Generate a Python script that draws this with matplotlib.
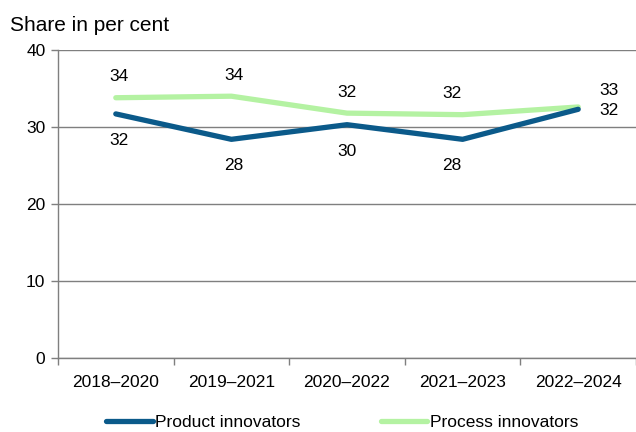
import matplotlib.pyplot as plt
import numpy as np

plt.rcParams['font.family'] = ['Liberation Sans', 'DejaVu Sans']

periods = ["2018–2020", "2019–2021", "2020–2022", "2021–2023", "2022–2024"]
product = [31.7, 28.4, 30.3, 28.4, 32.3]
process = [33.8, 34.0, 31.8, 31.6, 32.6]

blue = '#0b5a8a'
green = '#b4f2a2'
grey = '#7f7f7f'

fig = plt.figure(figsize=(6.36, 4.32), dpi=100)
ax = fig.add_axes([58 / 636, 1 - 358 / 432, 1 - 58 / 636, 308 / 432])

x = np.arange(len(periods))
ax.plot(x, product, color=blue, lw=3.8, solid_capstyle='round', label='Product innovators', zorder=3)
ax.plot(x, process, color=green, lw=3.8, solid_capstyle='round', label='Process innovators', zorder=2)

# value labels: process above, product below, last pair to the right
shift = [2, 2, 0, -8, 0]
for i, (a, b) in enumerate(zip(product, process)):
    if i == len(x) - 1:
        ax.annotate(f"{b:.0f}", (x[i], b), xytext=(22, 12), textcoords='offset points',
                    ha='center', va='center', fontsize=12.5)
        ax.annotate(f"{a:.0f}", (x[i], a), xytext=(22, -1), textcoords='offset points',
                    ha='center', va='center', fontsize=12.5)
    else:
        ax.annotate(f"{b:.0f}", (x[i], b), xytext=(shift[i], 15), textcoords='offset points',
                    ha='center', va='center', fontsize=12.5)
        ax.annotate(f"{a:.0f}", (x[i], a), xytext=(shift[i], -19), textcoords='offset points',
                    ha='center', va='center', fontsize=12.5)

ax.set_xlim(-0.5, len(x) - 0.5)
ax.set_ylim(0, 40)
ax.set_yticks([0, 10, 20, 30, 40])
ax.set_xticks(x)
ax.set_xticklabels(periods)
ax.set_xticks(np.arange(-0.5, len(x)), minor=True)
ax.tick_params(axis='x', which='major', length=0, pad=12, labelsize=12.5)
ax.tick_params(axis='x', which='minor', length=5, color=grey, width=1)
ax.tick_params(axis='y', length=5, color=grey, width=1, labelsize=12.5, pad=4)
ax.grid(axis='y', color=grey, lw=1)
ax.set_axisbelow(True)
for s in ['top', 'right']:
    ax.spines[s].set_visible(False)
for s in ['left', 'bottom']:
    ax.spines[s].set_color(grey)
    ax.spines[s].set_linewidth(1)

fig.text(10 / 636, 1 - 31 / 432, "Share in per cent", fontsize=15, va='baseline', ha='left')

fig.legend(loc='center', bbox_to_anchor=(0.538, 1 - 422 / 432), ncol=2, frameon=False,
           fontsize=12.5, handlelength=2.7, handletextpad=0.15, columnspacing=4.6)

fig.savefig('out.png', dpi=100)
